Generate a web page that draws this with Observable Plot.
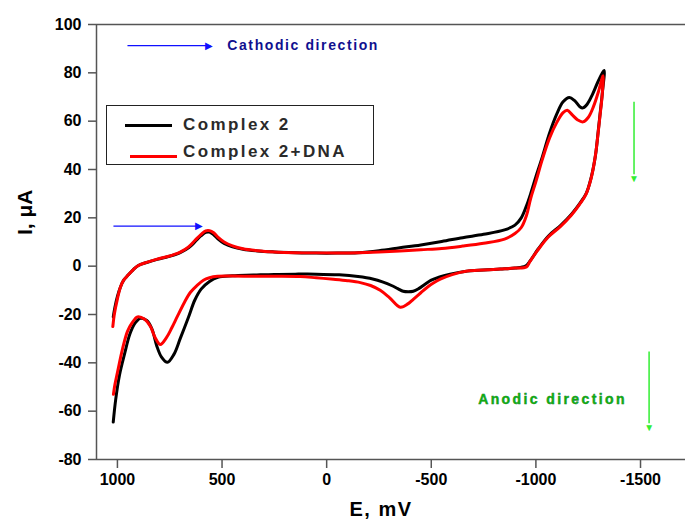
<!DOCTYPE html>
<html>
<head>
<meta charset="utf-8">
<script src="https://cdn.jsdelivr.net/npm/d3@7"></script>
<script src="https://cdn.jsdelivr.net/npm/@observablehq/plot@0.6"></script>
<style>
  html, body { margin: 0; padding: 0; background: #fff; }
  #wrap { position: relative; width: 686px; height: 527px; font-family: 'Liberation Sans', Arial, sans-serif; }
  #legend { position: absolute; left: 106px; top: 105px; width: 266px; height: 58px; border: 1.5px solid #222; background: #fff; }
  .lg-line { position: absolute; height: 3px; }
  .lg-text { position: absolute; left: 76px; font-weight: bold; font-size: 17px; letter-spacing: 2.4px; color: #2a2a2a; white-space: nowrap; line-height: 20px; }
</style>
</head>
<body>
<div id="wrap"></div>
<script>
// ---- data ----
const seriesNames = ["Complex 2", "Complex 2+DNA"];
const seriesColors = ["#000000", "#ff0000"];

// Complex 2: cathodic sweep (1020 -> -1326 mV) then anodic return
const blackE = [1020,1012,1000,985,970,950,925,900,860,810,760,730,700,660,630,600,578,560,540,520,490,450,400,330,250,150,50,-50,-150,-250,-350,-450,-550,-650,-750,-850,-900,-930,-955,-975,-1000,-1030,-1065,-1100,-1130,-1160,-1185,-1210,-1225,-1245,-1270,-1295,-1315,-1326,
  -1318,-1308,-1298,-1285,-1265,-1240,-1210,-1170,-1120,-1060,-1010,-975,-950,-900,-830,-750,-660,-590,-540,-500,-470,-440,-414,-390,-366,-340,-310,-270,-220,-150,-60,50,150,250,350,450,520,560,600,630,660,700,730,761,790,812,835,860,890,915,940,965,990,1008,1020];
const blackI = [-21,-17,-12.5,-8.5,-5.8,-3.8,-1.5,0.3,1.5,2.8,3.9,4.6,5.6,7.6,10,12.6,14,14.1,13,11.3,9.4,8,7,6.3,5.9,5.6,5.4,5.4,5.6,6.4,7.6,8.8,10.2,11.8,13.2,15,17,20,25,30,37,45,55,63,68,69.8,68.5,66,65.5,67,71,76,79.5,81,
  72,64,56,46,37,30,26,21.5,17,12.5,7,2.5,0,-0.8,-1.2,-1.6,-2.2,-3.3,-4.5,-5.8,-7.5,-9.3,-10.4,-10.6,-10.4,-9.3,-8,-6.6,-5.3,-4.3,-3.6,-3.3,-3.3,-3.4,-3.7,-4,-4.6,-6.3,-9.5,-14,-21,-30,-36.5,-39.8,-37.5,-33,-26,-22.5,-21.6,-23.5,-28,-36,-45,-55,-64.5];

// Complex 2 + DNA
const redE = [1022,1015,1000,985,970,950,925,900,860,810,760,730,700,660,630,600,578,560,540,520,490,450,400,330,250,150,50,-50,-150,-250,-350,-450,-550,-650,-750,-850,-900,-930,-955,-975,-1000,-1030,-1065,-1100,-1130,-1150,-1175,-1200,-1225,-1250,-1275,-1300,-1321,
  -1316,-1306,-1296,-1283,-1263,-1238,-1208,-1168,-1118,-1058,-1008,-972,-955,-900,-829,-750,-672,-600,-543,-510,-481,-450,-414,-390,-352,-300,-256,-210,-161,-100,-32,50,126,250,350,450,522,560,589,620,651,680,713,740,765,795,820,842,870,904,930,952,975,1000,1012,1019];
const redI = [-25,-20,-13.5,-8.5,-5.8,-3.8,-1.5,0.3,1.6,2.9,4,4.8,5.8,8,10.6,13.2,14.6,14.7,13.8,12,10,8.4,7.2,6.4,5.9,5.6,5.5,5.5,5.6,5.9,6.3,6.8,7.3,8.3,9.5,11.2,13.5,16,21,28,35,44,53,59.5,63.5,64.5,62.5,60.5,59.7,61.5,66,72.5,78.8,
  70,62,54,45,36,29.5,25.5,21,16.5,12,6.5,2,-0.3,-0.8,-1.2,-1.6,-2,-3.5,-5.4,-7,-8.7,-11,-13.7,-15.5,-17,-13,-10,-8,-6.8,-6,-5.4,-4.8,-4.3,-4.2,-4.2,-4.1,-4.2,-4.8,-5.8,-8,-10.8,-15,-20.7,-25.5,-29.5,-32.4,-29.5,-25,-22,-21,-23.5,-27,-34,-44,-49,-53];

const xTicks = [1000, 500, 0, -500, -1000, -1500];
const yTicks = [-80, -60, -40, -20, 0, 20, 40, 60, 80, 100];
const xLabel = "E, mV";
const yLabel = "I, μA";
const cathodicText = "Cathodic direction";
const anodicText = "Anodic direction";

// ---- build ----
const black = blackE.map((e, i) => ({E: e, I: blackI[i]}));
const red = redE.map((e, i) => ({E: e, I: redI[i]}));

const font = "'Liberation Sans', Arial, sans-serif";
const blue = "#1010ff";
const green = "#33ee33";

const chart = Plot.plot({
  width: 686,
  height: 527,
  marginLeft: 96,
  marginRight: 1,
  marginTop: 24,
  marginBottom: 68,
  style: {fontFamily: font, background: "#fff", color: "#000"},
  x: {domain: [1100, -1715]},
  y: {domain: [-80, 100]},
  marks: [
    Plot.ruleY([100], {stroke: "#555", strokeWidth: 1.5}),
    Plot.ruleY([-80], {stroke: "#555", strokeWidth: 1.5}),
    Plot.ruleX([1100], {stroke: "#555", strokeWidth: 1.5}),
    Plot.axisX({ticks: xTicks, tickFormat: d => String(d), tickSize: 9, tickPadding: 5, stroke: "#555", strokeWidth: 1.5,
      fontSize: 16, fontWeight: "bold", label: null}),
    Plot.axisY({ticks: yTicks, tickFormat: d => String(d), tickSize: 8, tickPadding: 7, stroke: "#555", strokeWidth: 1.5,
      fontSize: 16, fontWeight: "bold", label: null}),
    Plot.text([xLabel], {frameAnchor: "bottom", dx: -10, dy: 56, fontSize: 20, fontWeight: "bold"}),
    Plot.text([yLabel], {frameAnchor: "left", dx: -71, dy: -7, rotate: -90, fontSize: 21, fontWeight: "bold"}),
    Plot.line(black, {x: "E", y: "I", stroke: seriesColors[0], strokeWidth: 3, curve: "catmull-rom"}),
    Plot.line(red, {x: "E", y: "I", stroke: seriesColors[1], strokeWidth: 3, curve: "catmull-rom"}),
    // cathodic arrows
    Plot.link([{x1: 952, y1: 91.3, x2: 555, y2: 91.3}, {x1: 1019, y1: 16.6, x2: 605, y2: 16.6}],
      {x1: "x1", y1: "y1", x2: "x2", y2: "y2", stroke: blue, strokeWidth: 1.3}),
    Plot.text([{x: 560, y: 91.3}, {x: 608, y: 16.6}], {x: "x", y: "y", text: () => "▶", fill: blue, fontSize: 10}),
    Plot.text([cathodicText], {x: 475, y: 91.3, textAnchor: "start", fill: "#10108f", fontSize: 14, fontWeight: "bold"}),
    // anodic arrows
    Plot.link([{x1: -1469, y1: 68, x2: -1469, y2: 38}, {x1: -1541, y1: -35.3, x2: -1541, y2: -65}],
      {x1: "x1", y1: "y1", x2: "x2", y2: "y2", stroke: green, strokeWidth: 1.5}),
    Plot.text([{x: -1469, y: 36}, {x: -1541, y: -67}], {x: "x", y: "y", text: () => "▼", fill: green, fontSize: 10}),
    Plot.text([anodicText], {x: -724, y: -55.2, textAnchor: "start", fill: "#11aa11", stroke: "#063", strokeWidth: 0.4, fontSize: 14, fontWeight: "bold"})
  ]
});

// letter spacing for the annotation texts (not a Plot text option)
const spacing = new Map([[cathodicText, 1.6], [anodicText, 2.4], [xLabel, 1.5]]);
d3.select(chart).selectAll("text").each(function() {
  const s = spacing.get(this.textContent);
  if (s != null) this.setAttribute("letter-spacing", s);
});

const wrap = document.getElementById("wrap");
wrap.appendChild(chart);

// legend
const legend = document.createElement("div");
legend.id = "legend";
seriesNames.forEach((name, i) => {
  const line = document.createElement("div");
  line.className = "lg-line";
  line.style.background = seriesColors[i];
  line.style.left = (i === 0 ? 18 : 23) + "px";
  line.style.width = "47px";
  line.style.top = (i === 0 ? 18 : 49) + "px";
  legend.appendChild(line);
  const t = document.createElement("div");
  t.className = "lg-text";
  t.style.top = (i === 0 ? 9 : 36) + "px";
  t.textContent = name;
  legend.appendChild(t);
});
wrap.appendChild(legend);
</script>
</body>
</html>
